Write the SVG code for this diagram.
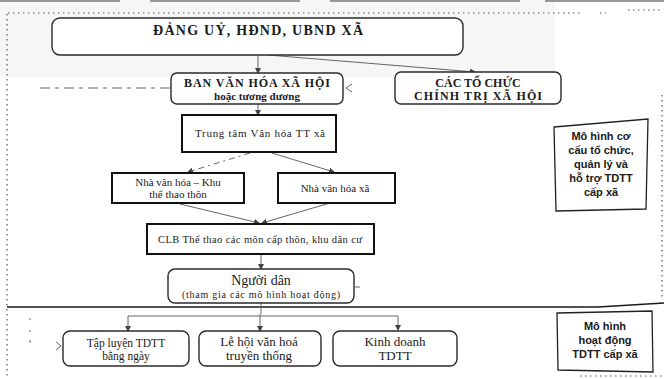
<svg xmlns="http://www.w3.org/2000/svg" width="664" height="379" viewBox="0 0 664 379">
<defs>
<marker id="ah" markerWidth="6" markerHeight="6" refX="5" refY="3" orient="auto" markerUnits="userSpaceOnUse">
<path d="M0,0 L6,3 L0,6 Z" fill="#444"/>
</marker>
<style>
.bg{fill:#ffffff}
.rnd{fill:#fff;stroke:#2a2a2a;stroke-width:1.4}
.sq{fill:#fff;stroke:#111;stroke-width:2}
.note{fill:#fff;stroke:#222;stroke-width:1.3}
.con{fill:none;stroke:#666;stroke-width:1}
.dot{fill:none;stroke:#555;stroke-width:1.2;stroke-dasharray:1.5 3.5}
.sep{fill:none;stroke:#1a1a1a;stroke-width:1.4}
.tb{font-family:"Liberation Serif","DejaVu Serif",serif;font-weight:bold;fill:#1a1a1a;text-anchor:middle}
.ts{font-family:"Liberation Serif","DejaVu Serif",serif;fill:#1a1a1a;text-anchor:middle}
.tn{font-family:"Liberation Sans","DejaVu Sans",sans-serif;font-weight:bold;fill:#1a1a1a;text-anchor:middle;font-size:11px}
</style>
</defs>
<rect class="bg" x="0" y="0" width="664" height="379"/>
<rect x="0" y="0" width="555" height="77" fill="#f6f6f6"/>
<path d="M0,1 H120 M150,1 H300 M330,1 H520 M545,1 H664" stroke="#777" stroke-width="1.5" fill="none"/>
<g id="frame">
<path class="dot" d="M8,13 H582"/>
<path class="dot" d="M7,14 V379"/>
<path class="dot" d="M662,95 V300"/>
<path class="dot" d="M580,376 H664"/>
<path class="dot" d="M600,13 H606 M628,10 H660"/>
<path class="sep" d="M7,307 H598 L664,303"/>
</g>
<g id="connectors">
<line class="con" x1="258" y1="55" x2="258" y2="73" marker-end="url(#ah)"/>
<line class="con" x1="268" y1="55" x2="475" y2="72" marker-end="url(#ah)"/>
<line class="con" x1="258" y1="104" x2="258" y2="115" marker-end="url(#ah)"/>
<line class="con" x1="250" y1="153" x2="188" y2="172" stroke-dasharray="6 4 2 4" marker-end="url(#ah)"/>
<line class="con" x1="272" y1="153" x2="334" y2="172" marker-end="url(#ah)"/>
<line class="con" x1="180" y1="204" x2="259" y2="223" marker-end="url(#ah)"/>
<line class="con" x1="330" y1="203" x2="262" y2="223" marker-end="url(#ah)"/>
<line class="con" x1="261" y1="254" x2="261" y2="269" marker-end="url(#ah)"/>
<path class="con" d="M261,303 V314"/>
<path class="con" d="M128,316 H398 V330" marker-end="url(#ah)"/>
<line class="con" x1="128" y1="316" x2="128" y2="331" marker-end="url(#ah)"/>
<line class="con" x1="260" y1="314" x2="260" y2="331" marker-end="url(#ah)"/>
<line class="con" x1="40" y1="88" x2="171" y2="88" stroke-dasharray="10 5 4 5" stroke="#555"/>
<path class="con" d="M352,84 L346,88 L352,92"/>
<path class="con" d="M56,342 L61,346 L56,350"/>
<path class="con" d="M355,287 H360" stroke-width="2.5" stroke="#333"/>
<path class="con" d="M30,318 v2 M30,330 v2 M30,340 v3" stroke="#888"/>
</g>
<g id="n-dangu">
<rect class="rnd" x="52" y="18" width="411" height="37" rx="8"/>
<text class="tb" x="258" y="35" font-size="14" textLength="210" lengthAdjust="spacing">ĐẢNG UỶ, HĐND, UBND XÃ</text>
</g>
<g id="n-ban">
<rect class="rnd" x="171" y="73" width="172" height="31" rx="6"/>
<text class="tb" x="257" y="87" font-size="12" textLength="146" lengthAdjust="spacing">BAN VĂN HÓA XÃ HỘI</text>
<text class="tb" x="257" y="100" font-size="11">hoặc tương đương</text>
</g>
<g id="n-cac">
<rect class="rnd" x="395" y="72" width="166" height="32" rx="6"/>
<text class="tb" x="478" y="87" font-size="12">CÁC TỔ CHỨC</text>
<text class="tb" x="478" y="100" font-size="12" textLength="128" lengthAdjust="spacing">CHÍNH TRỊ XÃ HỘI</text>
</g>
<g id="n-trungtam">
<rect class="sq" x="182" y="115" width="154" height="37"/>
<text class="ts" x="260" y="137" font-size="11" textLength="130" lengthAdjust="spacing">Trung tâm Văn hóa TT xã</text>
</g>
<g id="n-nvhkhu">
<rect class="sq" x="112" y="173" width="132" height="30"/>
<text class="ts" x="178" y="186" font-size="11">Nhà văn hóa – Khu</text>
<text class="ts" x="178" y="198" font-size="11">thể thao thôn</text>
</g>
<g id="n-nvhxa">
<rect class="sq" x="278" y="173" width="117" height="30"/>
<text class="ts" x="335" y="192" font-size="11">Nhà văn hóa xã</text>
</g>
<g id="n-clb">
<rect class="sq" x="147" y="224" width="227" height="30"/>
<text class="ts" x="260" y="243" font-size="10.5" textLength="204" lengthAdjust="spacing">CLB Thể thao các môn cấp thôn, khu dân cư</text>
</g>
<g id="n-nguoidan">
<rect class="rnd" x="168" y="269" width="186" height="34" rx="7"/>
<text class="ts" x="261" y="285" font-size="14">Người dân</text>
<text class="ts" x="261" y="298" font-size="10" textLength="158" lengthAdjust="spacing">(tham gia các mô hình hoạt động)</text>
</g>
<g id="n-tapluyen">
<rect class="rnd" x="63" y="331" width="126" height="35" rx="7"/>
<text class="ts" x="126" y="347" font-size="11.5">Tập luyện TDTT</text>
<text class="ts" x="126" y="360" font-size="11.5">bằng ngày</text>
</g>
<g id="n-lehoi">
<rect class="rnd" x="199" y="331" width="122" height="35" rx="7"/>
<text class="ts" x="259" y="346" font-size="13">Lễ hội văn hoá</text>
<text class="ts" x="259" y="360" font-size="13">truyền thống</text>
</g>
<g id="n-kinhdoanh">
<rect class="rnd" x="333" y="331" width="124" height="35" rx="7"/>
<text class="ts" x="395" y="346" font-size="13">Kinh doanh</text>
<text class="ts" x="395" y="360" font-size="13">TDTT</text>
</g>
<g id="n-mohinh1">
<path class="note" d="M554,127 L648,119 L646,209 L556,211 Z"/>
<text class="tn" x="601" y="140">Mô hình cơ</text>
<text class="tn" x="601" y="154">cấu tổ chức,</text>
<text class="tn" x="601" y="168">quản lý và</text>
<text class="tn" x="601" y="182">hỗ trợ TDTT</text>
<text class="tn" x="601" y="196">cấp xã</text>
</g>
<g id="n-mohinh2">
<path class="note" d="M557,313 L652,311 L653,372 L558,370 Z"/>
<text class="tn" x="605" y="330">Mô hình</text>
<text class="tn" x="605" y="344">hoạt động</text>
<text class="tn" x="605" y="358">TDTT cấp xã</text>
</g>
</svg>
